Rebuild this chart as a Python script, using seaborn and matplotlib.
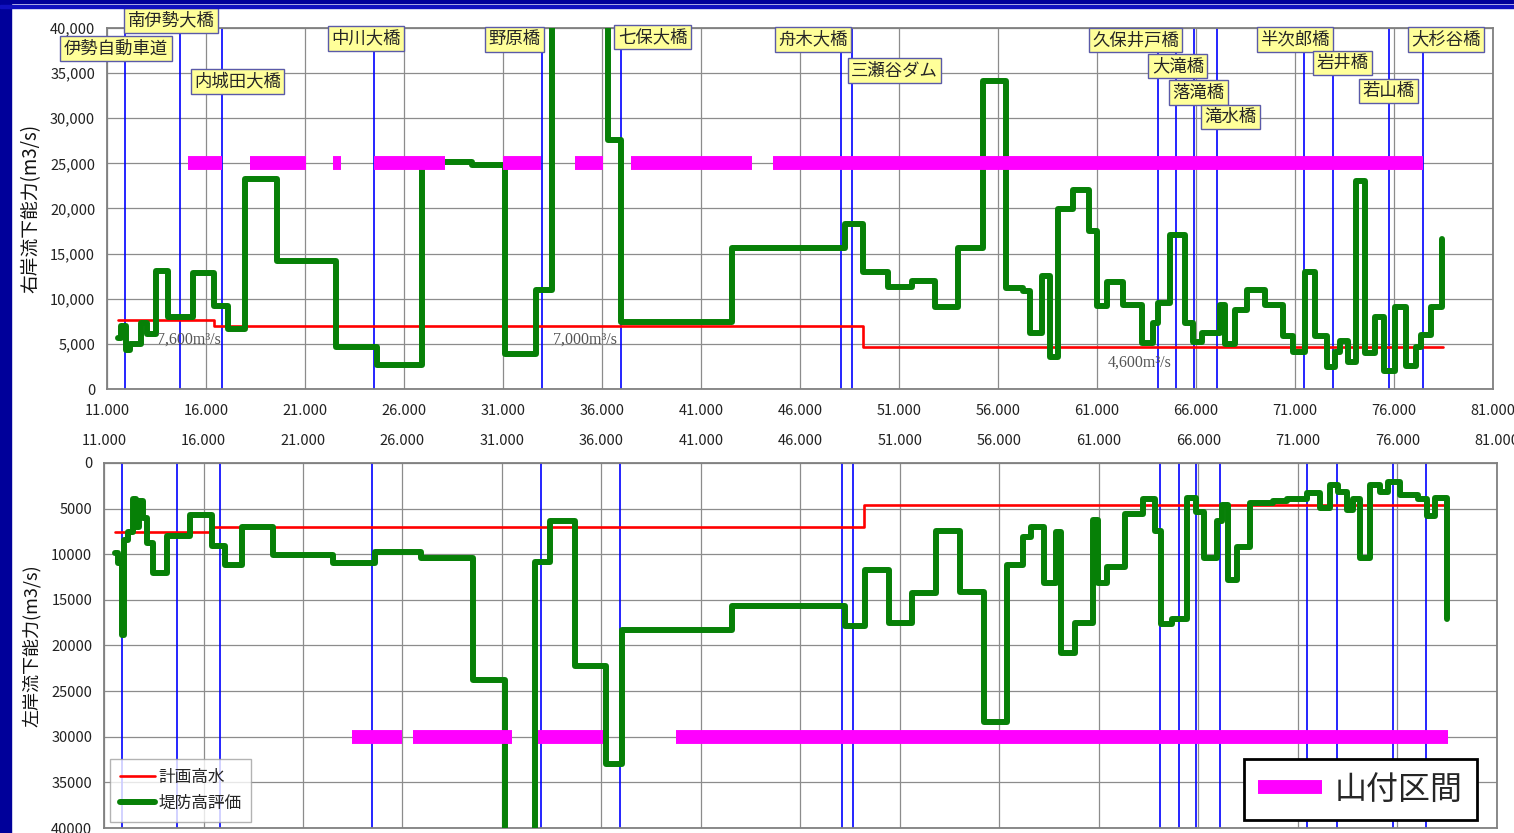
import pandas as pd
import matplotlib.pyplot as plt
import seaborn as sns
from matplotlib.lines import Line2D
from matplotlib.patches import Rectangle
from matplotlib.ticker import FuncFormatter

# 右岸流下能力 (step profile, value holds until the next distance)
right_x = [11560, 11700, 11960, 12160, 12700, 13000, 13470, 14080, 15340, 16400,
           17110, 17970, 19590, 22570, 24640, 26900, 29430, 31100, 32670, 33480,
           36300, 36960, 42570, 48270, 49180, 50440, 51660, 52820, 53980, 55240,
           56400, 57260, 57620, 58220, 58620, 59030, 59790, 60600, 61000, 61500,
           62310, 63270, 63830, 64080, 64690, 65450, 65850, 66300, 67210, 67460,
           67970, 68580, 69480, 70400, 70910, 71510, 72020, 72630, 73030, 73280,
           73680, 74090, 74540, 75050, 75500, 76060, 76610, 77120, 77370, 77880,
           78420]
right_q = [5700, 7000, 4300, 5000, 7300, 6100, 13100, 8000, 12850, 9200,
           6700, 23300, 14200, 4650, 2700, 25100, 24800, 3900, 10950, 45000,
           27600, 7450, 15600, 18250, 12950, 11250, 12000, 9050, 15600, 34150,
           11150, 10850, 6200, 12500, 3550, 19900, 22100, 17500, 9200, 11900,
           9300, 5100, 7300, 9500, 17100, 7300, 5200, 6200, 9300, 5000,
           8800, 10950, 9300, 5900, 4100, 12950, 5900, 2450, 4100, 5300,
           3000, 23050, 4000, 7950, 2000, 9100, 2550, 4650, 6000, 9100,
           16600]

# 左岸流下能力
left_x = [11550, 11700, 11890, 12000, 12200, 12460, 12620, 12740, 12950, 13150,
          13460, 14160, 15320, 16430, 17080, 17930, 19490, 22510, 24620, 26910,
          29540, 31150, 32660, 33410, 34670, 36230, 37030, 42560, 48240, 49240,
          50450, 51600, 52810, 54020, 55220, 56400, 57190, 57610, 58250, 58850,
          59090, 59790, 60680, 60950, 61400, 62330, 63230, 63830, 64140, 64650,
          65420, 65860, 66260, 66930, 67180, 67480, 67930, 68590, 69750, 70450,
          71450, 72100, 72610, 73010, 73460, 73760, 74110, 74610, 75120, 75520,
          76120, 77030, 77480, 77890, 78480]
left_q = [9900, 11000, 18800, 8400, 7600, 3900, 7000, 4200, 6000, 8800,
          12100, 8000, 5700, 9100, 11200, 7000, 10100, 11000, 9800, 10400,
          23800, 45000, 10900, 6400, 22200, 33000, 18300, 15700, 17900, 11750,
          17500, 14200, 7400, 14150, 28350, 11200, 8100, 7000, 13100, 7600,
          20800, 17500, 6200, 13100, 11400, 5600, 3950, 7400, 17600, 17150,
          3850, 5350, 10450, 6350, 4600, 12800, 9200, 4350, 4150, 3950,
          3300, 4900, 2450, 3200, 5200, 3950, 10450, 2400, 3150, 2100,
          3500, 3900, 5850, 3850, 17100]

# 計画高水
plan_x = [11550, 16400, 49200, 78500]
plan_q = [7600, 7000, 4600, 4600]
plan_text = ['7,600m³/s', '7,000m³/s', '4,600m³/s']
plan_text_x = [13520, 33520, 61550]
plan_text_y = [5430, 5430, 2880]

# 橋梁など
bridge_names = ['伊勢自動車道', '南伊勢大橋', '内城田大橋', '中川大橋', '野原橋', '七保大橋',
                '舟木大橋', '三瀬谷ダム', '久保井戸橋', '大滝橋', '落滝橋', '滝水橋',
                '半次郎橋', '岩井橋', '若山橋', '大杉谷橋']
bridge_x = [11900, 14680, 16820, 24480, 32970, 36940, 48070, 48620,
            64070, 65000, 65900, 67060, 71450, 72940, 75760, 77450]
label_x = [11455, 14230, 17590, 24080, 31580, 38550, 46660, 50770,
           62950, 65090, 66130, 67740, 71000, 73400, 75720, 78630]
label_y = [37730, 40830, 34070, 38840, 38730, 39000, 38730, 35290,
           38670, 35790, 32850, 30140, 38730, 36120, 33020, 38730]

# 山付区間
right_yama_start = [15090, 18220, 22410, 24480, 31000, 34640, 37470, 44640]
right_yama_end = [16810, 21050, 22820, 28070, 32920, 36050, 43580, 77460]
left_yama_start = [23460, 26530, 32810, 39740]
left_yama_end = [25980, 31500, 36080, 78540]

x_ticks = list(range(11000, 81001, 5000))
y_ticks = list(range(0, 40001, 5000))

sns.set_style('white')
plt.rcParams['font.family'] = ['Noto Sans CJK JP', 'DejaVu Sans']

GREEN = '#078007'
fig = plt.figure(figsize=(15.14, 8.33), dpi=100)
ax1 = fig.add_axes([0.0707, 0.533, 0.9154, 0.4334])
ax2 = fig.add_axes([0.0687, 0.006, 0.920, 0.4382])

# frame decoration
fig.patches.append(Rectangle((0, 0), 11 / 1514, 1, transform=fig.transFigure, color='#00009a', zorder=0))
fig.patches.append(Rectangle((0, 1 - 3 / 833), 1, 3 / 833, transform=fig.transFigure, color='#00009a', zorder=0))
fig.patches.append(Rectangle((0, 1 - 8 / 833), 1, 3 / 833, transform=fig.transFigure, color='#1010c0', zorder=0))

right_df = pd.DataFrame({'距離': right_x, '流下能力': right_q})
left_df = pd.DataFrame({'距離': left_x, '流下能力': left_q})
plan_df = pd.DataFrame({'距離': plan_x, '流下能力': plan_q})

for ax, df, yama_y, ys, ye in [(ax1, right_df, 25000, right_yama_start, right_yama_end),
                               (ax2, left_df, 30000, left_yama_start, left_yama_end)]:
    for bx in bridge_x:
        ax.axvline(bx, color='#0000ff', lw=1.2, zorder=2)
    sns.lineplot(data=plan_df, x='距離', y='流下能力', drawstyle='steps-post', estimator=None,
                 sort=False, color='#ff0000', lw=1.9, ax=ax, zorder=3, label='計画高水')
    sns.lineplot(data=df, x='距離', y='流下能力', drawstyle='steps-post', estimator=None,
                 sort=False, color=GREEN, lw=4.3, ax=ax, zorder=4, label='堤防高評価')
    ax.hlines([yama_y] * len(ys), ys, ye, color='#ff00ff', lw=10, zorder=5, capstyle='butt')
    ax.set_xlim(11000, 81000)
    ax.set_xticks(x_ticks)
    ax.set_yticks(y_ticks)
    ax.grid(True, color='#8c8c8c', lw=0.9, zorder=0)
    ax.set_axisbelow(True)
    for s in ax.spines.values():
        s.set_color('#808080')
        s.set_linewidth(1.3)
    ax.tick_params(length=0, labelsize=10.5, colors='#222222')
    ax.tick_params(axis='y', pad=8.5)
    ax.tick_params(axis='x', pad=11)
    ax.xaxis.set_major_formatter(FuncFormatter(lambda v, p: f'{int(v):,}'.replace(',', '.')))
    ax.set_xlabel('')

ax1.set_ylim(0, 40000)
ax1.yaxis.set_major_formatter(FuncFormatter(lambda v, p: f'{int(v):,}'))
ax1.set_ylabel('右岸流下能力(m3/s)', fontsize=13.5, color='#111111')
ax1.yaxis.set_label_coords(-0.047, 0.5)
ax1.legend_.remove()

ax2.set_ylim(40000, 0)
ax2.xaxis.set_ticks_position('top')
ax2.yaxis.set_major_formatter(FuncFormatter(lambda v, p: f'{int(v)}'))
ax2.set_ylabel('左岸流下能力(m3/s)', fontsize=13, color='#111111')
ax2.yaxis.set_label_coords(-0.045, 0.5)
ax2.legend(loc='lower left', bbox_to_anchor=(0.0043, 0.016), borderaxespad=0, fontsize=12,
           frameon=True, fancybox=False, edgecolor='#a0a0a0', handlelength=2.1,
           handletextpad=0.2, borderpad=0.6, labelspacing=0.55)

# plan discharge texts
for t, tx, ty in zip(plan_text, plan_text_x, plan_text_y):
    ax1.text(tx, ty, t, fontsize=11.5, color='#555555', family=['Liberation Serif', 'DejaVu Serif'],
             va='center', ha='left', zorder=6)

# bridge labels
for name, lx, ly in zip(bridge_names, label_x, label_y):
    ax1.text(lx, ly, name, fontsize=12.5, ha='center', va='center', clip_on=False, zorder=10,
             bbox=dict(boxstyle='square,pad=0.2', fc='#ffff99', ec='#5a5aa8', lw=1))

# 山付区間 legend
fig.legend(handles=[Line2D([], [], color='#ff00ff', lw=10, solid_capstyle='butt')], labels=['山付区間'],
           loc='lower left', bbox_to_anchor=(1244 / 1514, 1 - 820 / 833), fontsize=23,
           frameon=True, fancybox=False, edgecolor='black', framealpha=1,
           handlelength=2.0, handletextpad=0.4, borderpad=0.45, borderaxespad=0)
fig.legends[0].get_frame().set_linewidth(2)

fig.savefig('out.png', dpi=100)
